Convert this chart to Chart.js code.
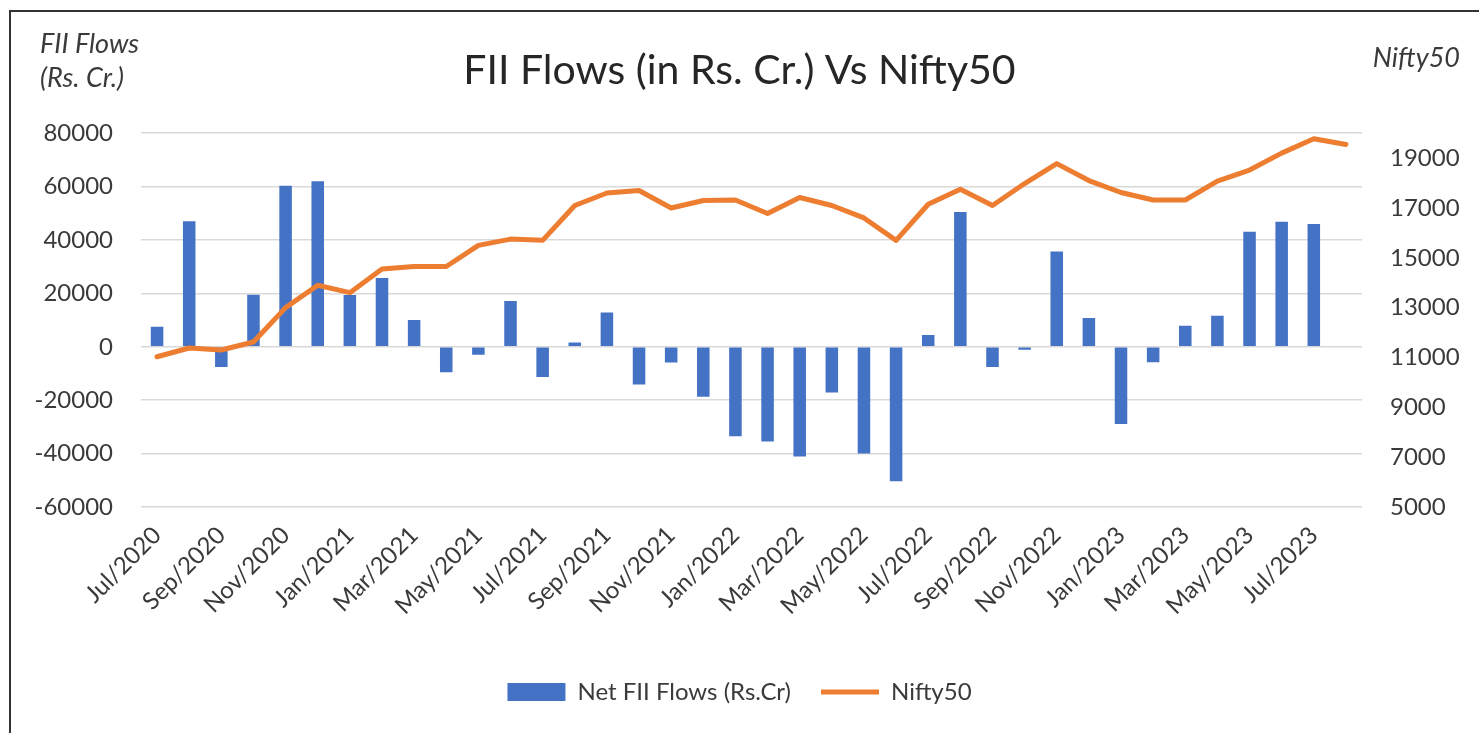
<!DOCTYPE html>
<html>
<head>
<meta charset="utf-8">
<script src="https://cdn.jsdelivr.net/npm/chart.js@4.4.0/dist/chart.umd.min.js"></script>
<style>
html,body{margin:0;padding:0;background:#fff;overflow:hidden}
#wrap{position:absolute;left:0;top:0;width:1479px;height:733px}
#frame{position:absolute;left:9px;top:10px;width:1480px;height:740px;border-left:2px solid #333;border-top:2px solid #333;pointer-events:none}
canvas{position:absolute;left:0;top:0}
</style>
</head>
<body>
<div id="wrap"><canvas id="c" width="1479" height="733"></canvas><div id="frame"></div></div>
<script>
const categories = [
  'Jul/2020','Aug/2020','Sep/2020','Oct/2020','Nov/2020','Dec/2020',
  'Jan/2021','Feb/2021','Mar/2021','Apr/2021','May/2021','Jun/2021',
  'Jul/2021','Aug/2021','Sep/2021','Oct/2021','Nov/2021','Dec/2021',
  'Jan/2022','Feb/2022','Mar/2022','Apr/2022','May/2022','Jun/2022',
  'Jul/2022','Aug/2022','Sep/2022','Oct/2022','Nov/2022','Dec/2022',
  'Jan/2023','Feb/2023','Mar/2023','Apr/2023','May/2023','Jun/2023',
  'Jul/2023','Aug/2023'
];
const netFiiFlows = [
  7500, 47000, -7600, 19500, 60300, 62000,
  19400, 25800, 10000, -9500, -3000, 17200,
  -11300, 1600, 12800, -14100, -5900, -18700,
  -33500, -35500, -41100, -17100, -40000, -50400,
  4400, 50500, -7600, -1100, 35700, 10800,
  -28900, -5800, 7900, 11600, 43100, 46800,
  46000, null
];
const nifty50 = [
  11030, 11380, 11300, 11620, 13000, 13900,
  13600, 14550, 14650, 14650, 15500, 15750,
  15700, 17100, 17600, 17700, 17000, 17300,
  17320, 16780, 17420, 17100, 16600, 15700,
  17150, 17750, 17100, 17980, 18780, 18100,
  17620, 17320, 17320, 18080, 18520, 19200,
  19780, 19550
];
const leftTicks = [-60000, -40000, -20000, 0, 20000, 40000, 60000, 80000];
const rightTicks = [5000, 7000, 9000, 11000, 13000, 15000, 17000, 19000];
const chartTitle = 'FII Flows (in Rs. Cr.) Vs Nifty50';
const leftAxisTitle = ['FII Flows', '(Rs. Cr.)'];
const rightAxisTitle = 'Nifty50';
const seriesNames = ['Net FII Flows (Rs.Cr)', 'Nifty50'];

const FONT = 'Lato';
const TXT = '#3a3a3a';

const axisTitles = {
  id: 'axisTitles',
  afterDraw(chart) {
    const c = chart.ctx;
    c.save();
    c.font = 'italic 27px ' + FONT;
    c.fillStyle = TXT;
    c.textBaseline = 'alphabetic';
    c.textAlign = 'left';
    c.fillText(leftAxisTitle[0], 40, 53);
    c.fillText(leftAxisTitle[1], 40, 87);
    c.textAlign = 'right';
    c.fillText(rightAxisTitle, 1460, 67);
    c.restore();
  }
};

function draw() {
  Chart.defaults.font.family = FONT;
  new Chart(document.getElementById('c'), {
    data: {
      labels: categories,
      datasets: [
        {
          type: 'bar', label: seriesNames[0], data: netFiiFlows,
          backgroundColor: '#4472C4', borderColor: '#4472C4', borderWidth: 0,
          yAxisID: 'y', order: 1, barPercentage: 0.39, categoryPercentage: 1,
          pointStyle: 'rect'
        },
        {
          type: 'line', label: seriesNames[1], data: nifty50,
          borderColor: '#ED7D31', backgroundColor: '#ED7D31', borderWidth: 5,
          pointRadius: 0, tension: 0, yAxisID: 'y1', order: 0,
          pointStyle: 'line', borderJoinStyle: 'round', borderCapStyle: 'round'
        }
      ]
    },
    options: {
      responsive: false,
      animation: false,
      layout: { padding: { left: 0, right: 0, top: 0, bottom: 19 } },
      plugins: {
        title: {
          display: true, text: chartTitle, color: '#262626',
          font: { family: FONT, size: 41, weight: 'normal' },
          padding: { top: 46, bottom: 38 }
        },
        legend: {
          position: 'bottom',
          labels: {
            usePointStyle: true, pointStyleWidth: 58, boxHeight: 18,
            color: TXT, font: { family: FONT, size: 24 }, padding: 30,
            sort: (a, b) => a.datasetIndex - b.datasetIndex
          }
        },
        tooltip: { enabled: false }
      },
      scales: {
        x: {
          grid: { display: false }, border: { display: false },
          ticks: {
            autoSkip: false, maxRotation: 45, minRotation: 45, color: TXT,
            font: { family: FONT, size: 24 }, padding: 6,
            callback: (v, i) => (i % 2 === 0 ? categories[i] : '')
          },
          afterFit(s) { s.height = 143; }
        },
        y: {
          position: 'left', min: -60000, max: 80000,
          afterBuildTicks(s) { s.ticks = leftTicks.map(v => ({ value: v })); },
          ticks: { padding: 28, color: TXT, font: { family: FONT, size: 24 }, callback: v => String(v) },
          grid: { color: '#d9d9d9', lineWidth: 1.5, drawTicks: false },
          border: { display: false },
          afterFit(s) { s.width = 141; }
        },
        y1: {
          position: 'right', min: 5000, max: 20000,
          afterBuildTicks(s) { s.ticks = rightTicks.map(v => ({ value: v })); },
          ticks: { padding: 28, color: TXT, font: { family: FONT, size: 24 }, callback: v => String(v) },
          grid: { display: false, drawTicks: false },
          border: { display: false },
          afterFit(s) { s.width = 117; }
        }
      }
    },
    plugins: [axisTitles]
  });
}

const fontLoads = ['24px Lato', '41px Lato', 'italic 27px Lato'].map(f => document.fonts.load(f));
Promise.all(fontLoads).then(draw, draw);
</script>
</body>
</html>
